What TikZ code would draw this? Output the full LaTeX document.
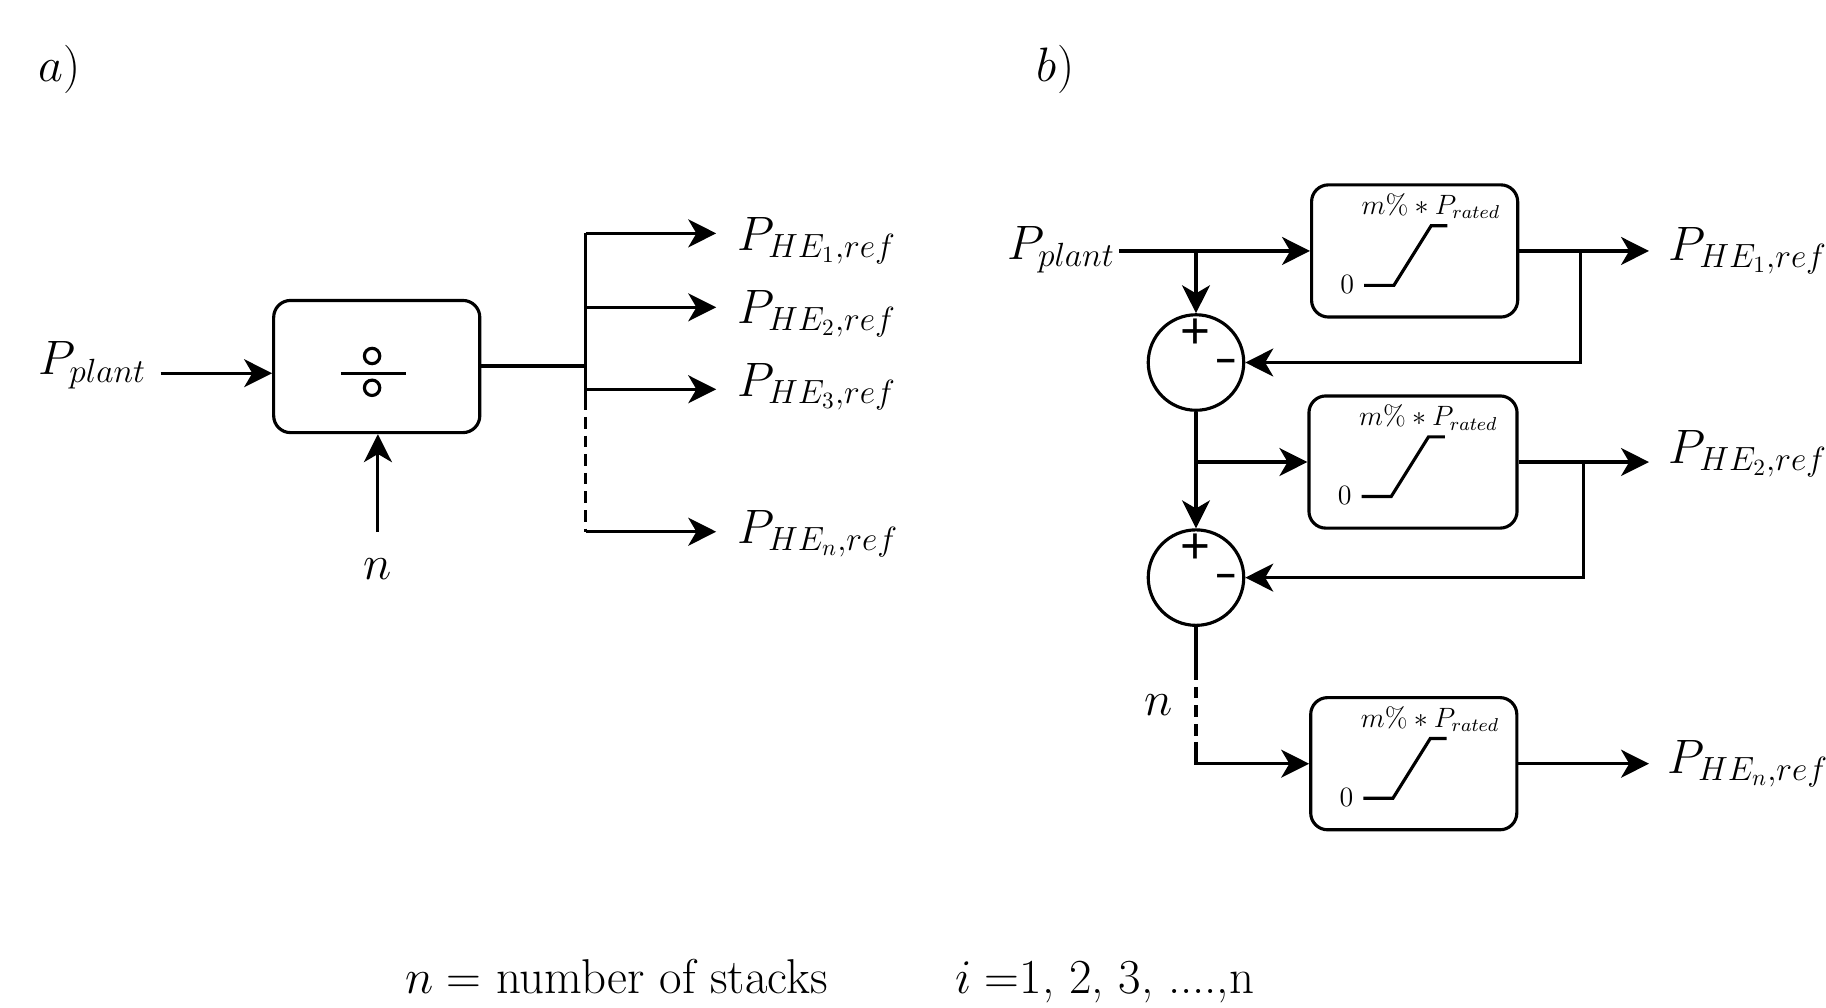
\documentclass[tikz,border=0pt]{standalone}
\usepackage{fontspec}
\newfontfamily\pmfont{Liberation Sans}
\usetikzlibrary{arrows.meta,calc}
\begin{document}
\begin{tikzpicture}[x=0.5pt,y=-0.5pt,
  ln/.style={line width=1.35pt},
  arr/.style={ln,-{Stealth[length=12pt,width=12pt,inset=3.5pt]}},
  dsh/.style={ln,dash pattern=on 5pt off 3pt},
  lbl/.style={font=\fontsize{20}{24}\selectfont,inner sep=0pt},
  note/.style={font=\fontsize{21}{25}\selectfont,inner sep=0pt},
  small/.style={font=\fontsize{12}{14}\selectfont,inner sep=0pt},
  blk/.style={draw,line width=1.35pt,rounded corners=7.25pt,inner sep=0pt,minimum width=88.5pt,minimum height=56.75pt},
  sumnode/.style={draw,circle,line width=1.35pt,minimum size=41pt,inner sep=0pt},
  plus/.style={font=\pmfont\fontsize{22}{24}\selectfont,inner sep=0pt},
  minus/.style={font=\pmfont\bfseries\fontsize{15}{17}\selectfont,inner sep=0pt}
  ]
\useasboundingbox (0,0) rectangle (1568,865);

% ---------- panel labels
\node[lbl,anchor=base west] (la) at (33,70) {$a)$};
\node[lbl,anchor=base west] (lb) at (890,70) {$b)$};

% ---------- panel a
\node[blk] (div) at (323.5,314.75) {};
\draw[ln] (292.7,320.6) -- (348.4,320.6);
\draw[ln] (319.5,305.7) circle[radius=3.3pt];
\draw[ln] (319.5,333) circle[radius=3.3pt];

\node[lbl,anchor=base west] (ap) at (33,322) {$P_{plant}$};
\coordinate (apE) at (138,320.5);
\draw[arr] (apE) -- (apE -| div.west);

\node[lbl,anchor=base] (an) at (324.5,498) {$n$};
\coordinate (anN) at (324.5,457);
\draw[arr] (anN) -- (anN |- div.south);

\coordinate (bus) at (502.8,314.3);
\coordinate (bt) at (502.8,200.4);
\coordinate (bs) at (502.8,342);
\coordinate (bb) at (502.8,456.6);
\draw[ln] (bus -| div.east) -- (bus);
\draw[ln] (bt) -- (bs);
\draw[dsh] (bs) -- (bb);

\coordinate (ta1) at (615,200.4);
\coordinate (ta2) at (615,263.9);
\coordinate (ta3) at (615,334.3);
\coordinate (ta4) at (615,456.6);
\draw[arr] (bt) -- (ta1);
\draw[arr] (bt |- ta2) -- (ta2);
\draw[arr] (bt |- ta3) -- (ta3);
\draw[arr] (bb) -- (ta4);

\node[lbl,anchor=base west] (ah1) at (633,214.7) {$P_{HE_1,ref}$};
\node[lbl,anchor=base west] (ah2) at (633,277.7) {$P_{HE_2,ref}$};
\node[lbl,anchor=base west] (ah3) at (633,340.6) {$P_{HE_3,ref}$};
\node[lbl,anchor=base west] (ahn) at (633,466.6) {$P_{HE_n,ref}$};

% ---------- panel b
\node[blk] (b1) at (1214.75,215.5) {};
\node[blk,minimum width=89.35pt] (b2) at (1213.35,396.75) {};
\node[blk] (b3) at (1214,655.8) {};

\foreach \b in {b1,b2,b3}{
  \draw[ln] ($(\b.south west)+(46.5,-28.5)$) -- ++(25.5,0)
        -- ($(\b.north west)+(104,36.5)$) -- ++(14,0);
  \node[small] (\b-zero) at ($(\b.south west)+(32,-29.5)$) {$0$};
  \node[small,anchor=base west] (\b-sat) at ($(\b.north west)+(44,27)$) {$m\% * P_{rated}$};
}

\node[sumnode] (s1) at (1027,311.3) {};
\node[sumnode] (s2) at (1027,496) {};
\node[plus] (s1p) at ($(s1.center)+(-0.2,-25)$) {+};
\node[minus] (s1m) at ($(s1.center)+(25.8,2)$) {–};
\node[plus] (s2p) at ($(s2.center)+(-0.2,-25)$) {+};
\node[minus] (s2m) at ($(s2.center)+(25.8,2)$) {–};

\node[lbl,anchor=base west] (bp) at (864.8,223) {$P_{plant}$};
\coordinate (bpE) at (961,215.5);
\coordinate (j1) at (1027,215.5);
\draw[arr] (bpE) -- (b1.west);
\draw[arr] (j1) -- (s1.north);

\coordinate (o1) at (1416,215.5);
\coordinate (k1) at (1357.3,215.5);
\draw[arr] (b1.east) -- (o1);
\draw[arr] (k1) |- (s1.east);

\draw[arr] (s1.south) -- (s2.north);
\draw[arr] (s1.south |- b2.west) -- (b2.west);

\coordinate (o2) at (1416,396.75);
\coordinate (k2) at (1359.5,396.75);
\draw[arr] (b2.east) -- (o2);
\draw[arr] (k2) |- (s2.east);

\coordinate (d1) at (1027,573.8);
\coordinate (d2) at (1027,637);
\draw[ln] (s2.south) -- (d1);
\draw[dsh] (d1) -- (d2);
\draw[arr] (d2) |- (b3.west);
\node[lbl,anchor=base] (bn) at (994.6,614) {$n$};

\coordinate (o3) at (1416,655.8);
\draw[arr] (b3.east) -- (o3);

\node[lbl,anchor=base west] (bh1) at (1432.6,223.3) {$P_{HE_1,ref}$};
\node[lbl,anchor=base west] (bh2) at (1432.6,397.8) {$P_{HE_2,ref}$};
\node[lbl,anchor=base west] (bhn) at (1431.6,664) {$P_{HE_n,ref}$};

% ---------- bottom notes
\node[note,anchor=base west] (nt) at (347.4,853) {$n =$ number of stacks};
\node[note,anchor=base west] (it) at (820,853) {$i =$1, 2, 3, ....,n};
\end{tikzpicture}
\end{document}
